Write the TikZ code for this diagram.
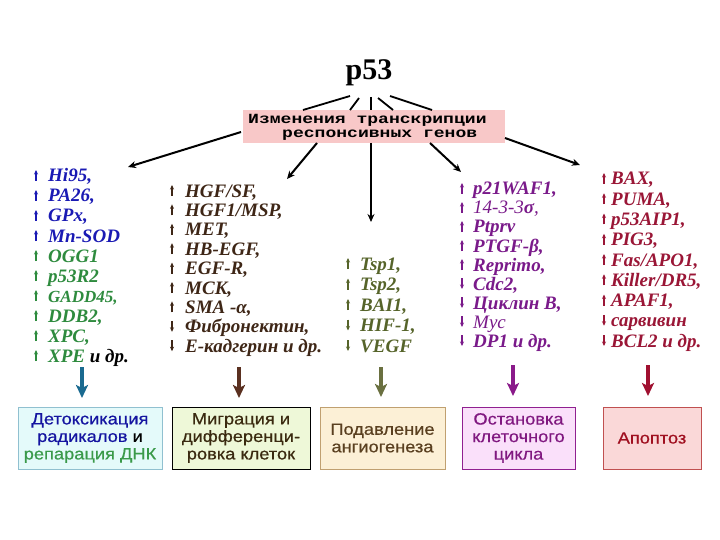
\documentclass[tikz,border=0pt]{standalone}
\usepackage{fontspec}
\setmainfont{Liberation Serif}
\setsansfont{Liberation Sans}
\newfontfamily\monof{Liberation Mono}[FakeStretch=1.29]
\newfontfamily\boxf{Liberation Sans}[FakeStretch=1.12,FakeBold=0.6]
\usetikzlibrary{arrows.meta}
\definecolor{cblue}{HTML}{1A1AB4}
\definecolor{cgreen}{HTML}{2E8B3E}
\definecolor{cbrown}{HTML}{3E2616}
\definecolor{colive}{HTML}{56642A}
\definecolor{cpurple}{HTML}{7A1A8A}
\definecolor{ccrimson}{HTML}{9A1636}
\definecolor{pinkbox}{HTML}{F8C8C8}
\definecolor{bblue}{HTML}{1414A0}
\definecolor{bgreen}{HTML}{3A9A4A}
\definecolor{aone}{HTML}{1A6A90}
\definecolor{atwo}{HTML}{5A3020}
\definecolor{athree}{HTML}{6A7040}
\definecolor{afour}{HTML}{8A1A8A}
\definecolor{afive}{HTML}{A01030}
\definecolor{fone}{HTML}{E4FAFA}
\definecolor{done}{HTML}{90C0D0}
\definecolor{ftwo}{HTML}{EEF8D8}
\definecolor{ttwo}{HTML}{3A2A10}
\definecolor{fthree}{HTML}{FCF0D6}
\definecolor{dthree}{HTML}{C0A070}
\definecolor{tthree}{HTML}{5A4020}
\definecolor{ffour}{HTML}{FAE0FA}
\definecolor{dfour}{HTML}{902090}
\definecolor{tfour}{HTML}{801880}
\definecolor{ffive}{HTML}{FAD8D8}
\definecolor{dfive}{HTML}{C05050}
\definecolor{tfive}{HTML}{A01020}
\tikzset{
  litem/.style={anchor=base west, inner sep=0pt, font=\bfseries\itshape\fontsize{19}{20}\selectfont},
  garr/.style={line width=1.1pt, -{Stealth[length=4.5pt,width=4pt]}},
  fanline/.style={line width=1.8pt, black},
  mainarr/.style={line width=2pt, -{Stealth[length=8pt,width=7pt]}},
  botarr/.style={line width=3.5pt, -{Stealth[length=13pt,width=12pt,inset=3pt]}},
  resbox/.style={draw, line width=1pt, inner sep=0pt, minimum height=62pt, align=center, font=\boxf\fontsize{16.3}{17.5}\selectfont},
  toptext/.style={anchor=north west, inner sep=0pt, align=left, font=\monof\bfseries\fontsize{14}{14}\selectfont},
}
\newcommand\itup[6]{%
  \node[litem,text=#5] (#1) at (#3,#4) {#6};
  \draw[garr,#5] (#2,#4-1) -- (#2,#4-12);}
\newcommand\itdn[6]{%
  \node[litem,text=#5] (#1) at (#3,#4) {#6};
  \draw[garr,#5] (#2,#4-12) -- (#2,#4-1);}
\begin{document}
\begin{tikzpicture}[x=1pt,y=-1pt]
\useasboundingbox (0,0) rectangle (720,540);
\fill[white] (0,0) rectangle (720,540);

% p53
\node[anchor=base, inner sep=0pt, font=\bfseries\fontsize{30}{30}\selectfont] (p53) at (369,80) {p53};

% top box
\node[anchor=north west, fill=pinkbox, minimum width=262pt, minimum height=33pt, inner sep=0pt] (tbox) at (243,110) {};
\node[toptext] (tl) at (248,114) {Изменения транскрипции\\\hspace*{34pt}респонсивных генов};

% fan lines p53 -> box
\coordinate (f1a) at (350,96); \coordinate (f1b) at (303,110);
\coordinate (f2a) at (359,98); \coordinate (f2b) at (350,110);
\coordinate (f3a) at (371,97); \coordinate (f3b) at (371,110);
\coordinate (f4a) at (378,98); \coordinate (f4b) at (393,110);
\coordinate (f5a) at (390,96); \coordinate (f5b) at (432,110);
\draw[fanline] (f1a) -- (f1b);
\draw[fanline] (f2a) -- (f2b);
\draw[fanline] (f3a) -- (f3b);
\draw[fanline] (f4a) -- (f4b);
\draw[fanline] (f5a) -- (f5b);

% arrows box -> lists
\coordinate (s1) at (241,132); \coordinate (e1) at (128,167);
\coordinate (s2) at (317,143); \coordinate (e2) at (287,179);
\coordinate (s3) at (371,143); \coordinate (e3) at (371,222);
\coordinate (s4) at (430,143); \coordinate (e4) at (461,172);
\coordinate (s5) at (505,138); \coordinate (e5) at (580,165);
\draw[mainarr] (s1) -- (e1);
\draw[mainarr] (s2) -- (e2);
\draw[mainarr] (s3) -- (e3);
\draw[mainarr] (s4) -- (e4);
\draw[mainarr] (s5) -- (e5);

% column 1
\itup{a1}{36}{48}{182}{cblue}{Hi95,}
\itup{a2}{36}{48}{202}{cblue}{PA26,}
\itup{a3}{36}{48}{222}{cblue}{GPx,}
\itup{a4}{36}{48}{242}{cblue}{Mn-SOD}
\itup{a5}{36}{48}{262}{cgreen}{OGG1}
\itup{a6}{36}{48}{282}{cgreen}{p53R2}
\itup{a7}{36}{48}{302}{cgreen}{\fontsize{17}{20}\selectfont GADD45,}
\itup{a8}{36}{48}{322}{cgreen}{DDB2,}
\itup{a9}{36}{48}{342}{cgreen}{XPC,}
\itup{a10}{36}{48}{362}{cgreen}{XPE {\color{black}и др.}}

% column 2
\itup{b1}{172}{185}{197}{cbrown}{HGF/SF,}
\itup{b2}{172}{185}{216.4}{cbrown}{HGF1/MSP,}
\itup{b3}{172}{185}{235.8}{cbrown}{MET,}
\itup{b4}{172}{185}{255.2}{cbrown}{HB-EGF,}
\itup{b5}{172}{185}{274.6}{cbrown}{EGF-R,}
\itup{b6}{172}{185}{294}{cbrown}{MCK,}
\itup{b7}{172}{185}{313.4}{cbrown}{SMA -α,}
\itdn{b8}{172}{185}{332.8}{cbrown}{Фибронектин,}
\itdn{b9}{172}{185}{352.2}{cbrown}{E-кадгерин и др.}

% column 3
\itup{c1}{348}{360}{270}{colive}{Tsp1,}
\itup{c2}{348}{360}{290.5}{colive}{Tsp2,}
\itup{c3}{348}{360}{311}{colive}{BAI1,}
\itdn{c4}{348}{360}{331.5}{colive}{HIF-1,}
\itdn{c5}{348}{360}{352}{colive}{VEGF}

% column 4
\itup{d1}{462}{473}{195}{cpurple}{p21WAF1,}
\itup{d2}{462}{473}{214}{cpurple}{\mdseries 14-3-3{\bfseries σ},}
\itup{d3}{462}{473}{233}{cpurple}{Ptprv}
\itup{d4}{462}{473}{252}{cpurple}{PTGF-β,}
\itup{d5}{462}{473}{271}{cpurple}{Reprimo,}
\itdn{d6}{462}{473}{290}{cpurple}{Cdc2,}
\itdn{d7}{462}{473}{309}{cpurple}{Циклин B,}
\itdn{d8}{462}{473}{328}{cpurple}{\mdseries Myc}
\itdn{d9}{462}{473}{347}{cpurple}{DP1 и др.}

% column 5
\itup{e1n}{604}{611}{185}{ccrimson}{BAX,}
\itup{e2n}{604}{611}{205.25}{ccrimson}{PUMA,}
\itup{e3n}{604}{611}{225.5}{ccrimson}{p53AIP1,}
\itup{e4n}{604}{611}{245.75}{ccrimson}{PIG3,}
\itup{e5n}{604}{611}{266}{ccrimson}{Fas/APO1,}
\itup{e6n}{604}{611}{286.25}{ccrimson}{Killer/DR5,}
\itup{e7n}{604}{611}{306.5}{ccrimson}{APAF1,}
\itdn{e8n}{604}{611}{326.75}{ccrimson}{сарвивин}
\itdn{e9n}{604}{611}{347}{ccrimson}{BCL2 и др.}

% bottom arrows
\coordinate (u1) at (82,367);  \coordinate (v1) at (82,398);
\coordinate (u2) at (239,367); \coordinate (v2) at (239,398);
\coordinate (u3) at (381,367); \coordinate (v3) at (381,397);
\coordinate (u4) at (513,365); \coordinate (v4) at (513,396);
\coordinate (u5) at (648,365); \coordinate (v5) at (648,396);
\draw[botarr,aone] (u1) -- (v1);
\draw[botarr,atwo] (u2) -- (v2);
\draw[botarr,athree] (u3) -- (v3);
\draw[botarr,afour] (u4) -- (v4);
\draw[botarr,afive] (u5) -- (v5);

% bottom boxes
\node[resbox, draw=done, fill=fone, minimum width=144pt] (r1) at (90,438)
  {{\color{bblue}Детоксикация}\\{\color{bblue}радикалов} и\\{\color{bgreen}репарация ДНК}};
\node[resbox, draw=black, fill=ftwo, text=ttwo, minimum width=138pt] (r2) at (241,438)
  {Миграция и\\дифференци-\\ровка клеток};
\node[resbox, draw=dthree, fill=fthree, text=tthree, minimum width=125pt] (r3) at (382.5,438)
  {Подавление\\ангиогенеза};
\node[resbox, draw=dfour, fill=ffour, text=tfour, minimum width=113pt] (r4) at (518.5,438)
  {Остановка\\клеточного\\цикла};
\node[resbox, draw=dfive, fill=ffive, text=tfive, minimum width=98pt] (r5) at (652,438)
  {Апоптоз};
\end{tikzpicture}
\end{document}
